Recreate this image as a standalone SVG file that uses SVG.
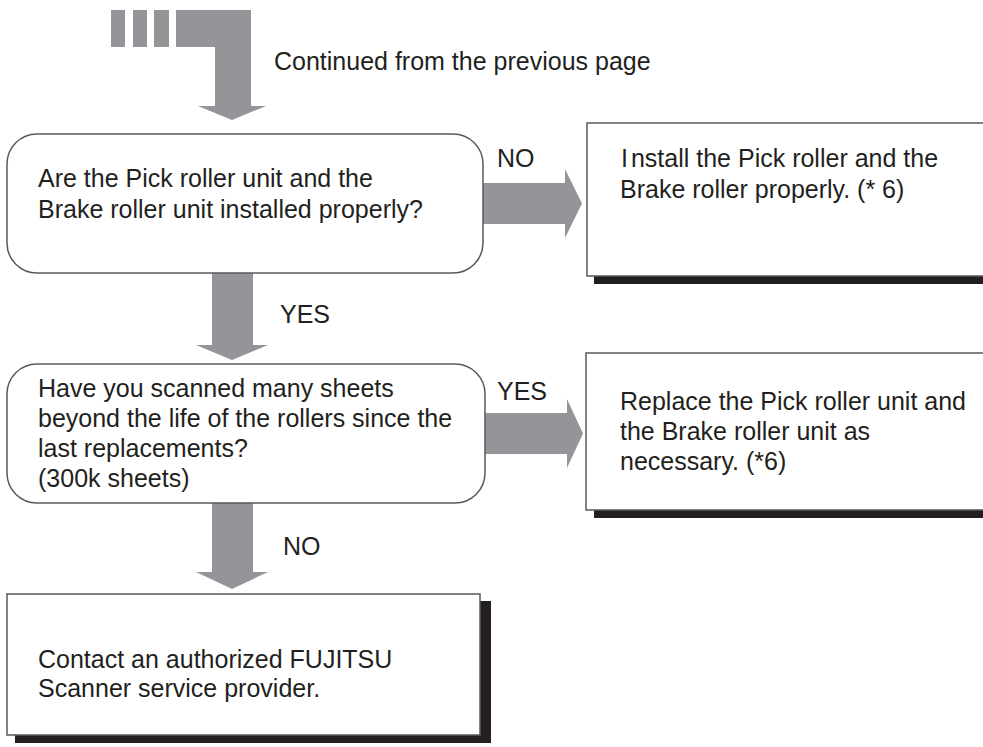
<svg xmlns="http://www.w3.org/2000/svg" width="983" height="747" viewBox="0 0 983 747">
<style>
text{font-family:"Liberation Sans",Arial,sans-serif;font-size:25px;fill:#231f20}
.box{fill:#fff;stroke:#58595b;stroke-width:1.5}
.sh{fill:#231f20}
.ar{fill:#939598}
</style>
<rect width="983" height="747" fill="#fff"/>
<g id="connectors">
<g id="start-arrow">
<rect class="ar" x="111" y="10" width="14" height="37"/>
<rect class="ar" x="133" y="10" width="14" height="37"/>
<rect class="ar" x="154" y="10" width="15" height="37"/>
<polygon class="ar" points="176,10 251,10 251,106 266,106 232,120 198,106 215,106 215,47 176,47"/>
</g>
<polygon class="ar" points="483,183 565,183 565,169 582,203.5 565,238 565,224 483,224"/>
<polygon class="ar" points="212,273 253,273 253,345 268,345 232,360 196,345 212,345"/>
<polygon class="ar" points="485,413 567,413 567,399 583,433.5 567,468 567,454 485,454"/>
<polygon class="ar" points="212,503 253,503 253,572 268,572 232,589 196,572 212,572"/>
<text x="274" y="70">Continued from the previous page</text>
<text x="497" y="167">NO</text>
<text x="280" y="323">YES</text>
<text x="497" y="400">YES</text>
<text x="283" y="555">NO</text>
</g>
<g id="q1">
<rect class="box" x="7" y="134" width="476" height="139" rx="30"/>
<text x="38" y="187">Are the Pick roller unit and the</text>
<text x="38" y="218">Brake roller unit installed properly?</text>
</g>
<g id="a1">
<rect class="sh" x="594" y="276" width="400" height="8"/>
<rect class="box" x="587" y="123" width="410" height="153"/>
<text x="621" y="167">I<tspan dx="3">nstall the Pick roller and the</tspan></text>
<text x="620" y="198">Brake roller properly. (* 6)</text>
</g>
<g id="q2">
<rect class="box" x="7" y="364" width="478" height="139" rx="30"/>
<text x="38" y="397">Have you scanned many sheets</text>
<text x="38" y="427">beyond the life of the rollers since the</text>
<text x="38" y="457">last replacements?</text>
<text x="38" y="487">(300k sheets)</text>
</g>
<g id="a2">
<rect class="sh" x="594" y="510" width="400" height="8"/>
<rect class="box" x="586" y="353" width="410" height="157"/>
<text x="620" y="410">Replace the Pick roller unit and</text>
<text x="620" y="440">the Brake roller unit as</text>
<text x="620" y="470">necessary. (*6)</text>
</g>
<g id="end">
<rect class="sh" x="15" y="601" width="476" height="142"/>
<rect class="box" x="7" y="594" width="473" height="141"/>
<text x="38" y="668">Contact an authorized FUJITSU</text>
<text x="38" y="697">Scanner service provider.</text>
</g>
</svg>
